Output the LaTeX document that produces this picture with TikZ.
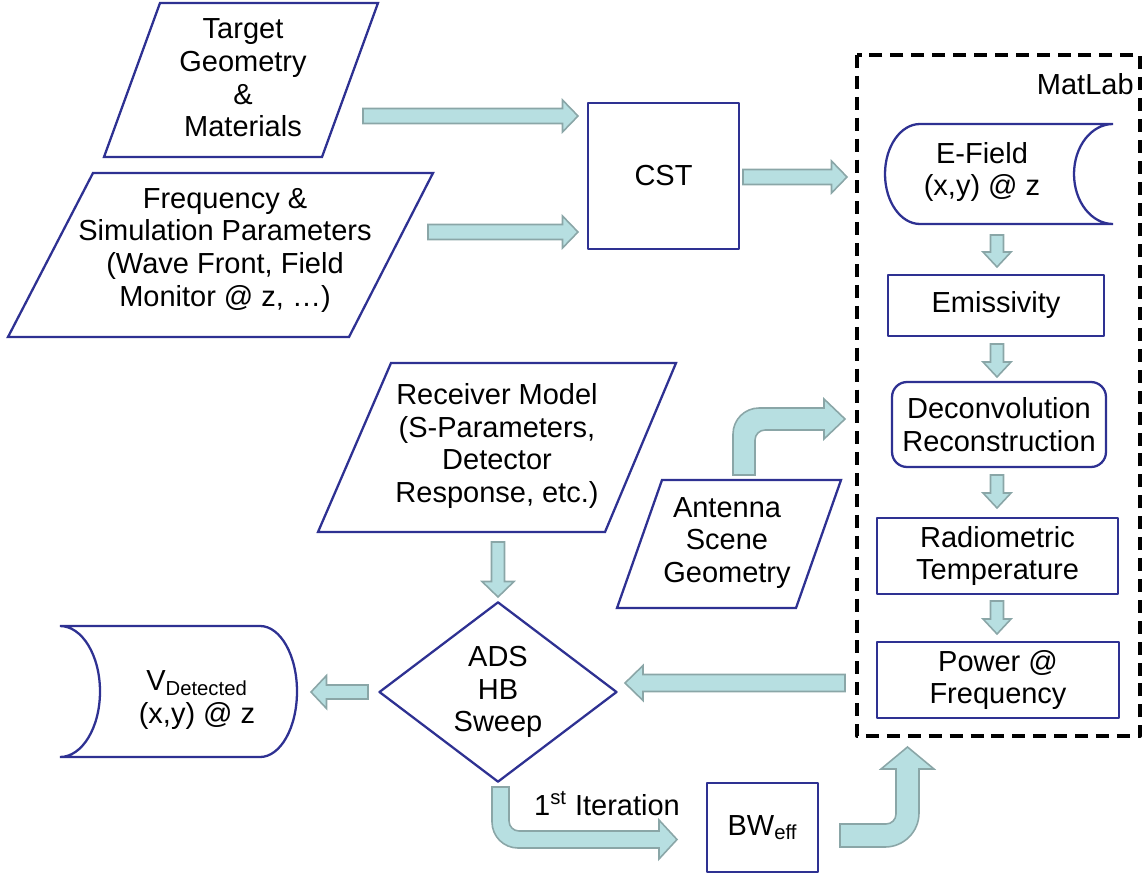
\documentclass[tikz,border=0pt]{standalone}
\usepackage{fontspec}
\setmainfont{Liberation Sans}
\usetikzlibrary{calc,shapes.geometric}

\definecolor{nodeblue}{RGB}{46,49,146}
\definecolor{arrowfill}{RGB}{183,223,225}
\definecolor{arrowline}{RGB}{138,166,167}

\tikzset{
  box/.style={draw=nodeblue, line width=1.3pt, align=center, inner sep=0pt},
  outline/.style={draw=nodeblue, line width=1.3pt, line join=miter},
  txt/.style={align=center, inner sep=0pt},
  blockarrow/.style={fill=arrowfill, draw=arrowline, line width=0.9pt, line join=miter},
  matlabbox/.style={draw=black, line width=2.2pt, dash pattern=on 7.4pt off 4.5pt},
}

% block arrow: from, to, shaft half width, head half width, head length
\newcommand{\barrow}[5]{%
  \path ($(#2)!#5!(#1)$) coordinate (hb);
  \filldraw[blockarrow] ($(#1)!#3!90:(#2)$) -- ($(hb)!#3!90:(#2)$) -- ($(hb)!#4!90:(#2)$) -- (#2)
    -- ($(hb)!#4!-90:(#2)$) -- ($(hb)!#3!-90:(#2)$) -- ($(#1)!#3!-90:(#2)$) -- cycle;
}

\begin{document}
\begin{tikzpicture}[x=0.02cm, y=0.02cm, font=\fontsize{16.5}{18.6}\selectfont, line join=round]
	\useasboundingbox (0,0) rectangle (1145,-875);
	%%%%%%%%%%%%%%%%%%%%%%%%%%%%%%%%%
	\coordinate (tg-s) at (363,-116);
	\coordinate (tg-e) at (578,-116);
	\coordinate (fq-s) at (428,-232);
	\coordinate (fq-e) at (578,-232);
	\coordinate (cst-s) at (743,-177);
	\coordinate (cst-e) at (847,-177);
	\coordinate (ef-s) at (997,-235);
	\coordinate (ef-e) at (997,-267);
	\coordinate (em-s) at (997,-344);
	\coordinate (em-e) at (997,-377);
	\coordinate (dc-s) at (997,-475);
	\coordinate (dc-e) at (997,-508);
	\coordinate (rt-s) at (997,-601);
	\coordinate (rt-e) at (997,-634);
	\coordinate (rx-s) at (498,-542);
	\coordinate (rx-e) at (498,-597);
	\coordinate (pw-s) at (845,-683);
	\coordinate (pw-e) at (625,-683);
	\coordinate (ads-s) at (368,-692);
	\coordinate (ads-e) at (311,-692);
	%%%%%%%%%%%%%%%%%%%%%%%%%%%%%%%%%
	\draw[matlabbox] (857,-55) rectangle (1140,-736);
	\node[txt, anchor=east] (matlab) at (1134,-84) {MatLab};
	%%%%%%%%%%%%%%%%%%%%%%%%%%%%%%%%%
	\draw[outline] (160,-3) -- (378,-3) -- (322,-157) -- (104,-157) -- cycle;
	\node[txt] (target) at (243,-78) {Target\\Geometry\\\&\\Materials};
	\draw[outline] (93,-173) -- (433,-173) -- (349,-337) -- (8,-337) -- cycle;
	\node[txt] (freq) at (225,-250) {Frequency \&\\Simulation Parameters\\(Wave Front, Field\\Monitor @ z, …)};
	\draw[outline] (391,-363) -- (676,-363) -- (605,-532) -- (318,-532) -- cycle;
	\node[txt] (receiver) at (497,-446) {Receiver Model\\(S-Parameters,\\Detector\\Response, etc.)};
	\draw[outline] (662,-480) -- (841,-480) -- (796,-608) -- (617,-608) -- cycle;
	\node[txt] (antenna) at (727,-543) {Antenna\\Scene\\Geometry};
	\draw[outline] (920,-124) -- (1113,-124) arc[start angle=90, end angle=270, x radius=39, y radius=50]
		-- (920,-224) arc[start angle=270, end angle=90, x radius=35, y radius=50] -- cycle;
	\node[txt] (efield) at (982,-172) {E-Field\\(x,y) @ z};
	\draw[outline] (60,-626) arc[start angle=90, end angle=-90, x radius=40, y radius=65.5]
		-- (260,-757) arc[start angle=-90, end angle=90, x radius=37, y radius=65.5] -- cycle;
	\node[txt] (vdet) at (197,-700) {V\textsubscript{Detected}\\(x,y) @ z};
	%%%%%%%%%%%%%%%%%%%%%%%%%%%%%%%%%
	\node[box, minimum width=3.02cm, minimum height=2.92cm] (cst) at (663.5,-176) {CST};
	\node[box, minimum width=4.32cm, minimum height=1.22cm] (emis) at (996,-305.5) {Emissivity};
	\node[box, rounded corners=0.3cm, minimum width=4.28cm, minimum height=1.7cm] (deconv) at (999,-424.5) {Deconvolution\\Reconstruction};
	\node[box, minimum width=4.82cm, minimum height=1.52cm] (radtemp) at (997.5,-556) {Radiometric\\Temperature};
	\node[box, minimum width=4.84cm, minimum height=1.52cm] (power) at (998,-680) {Power @\\Frequency};
	\node[box, diamond, minimum width=4.76cm, minimum height=3.4cm] (ads) at (498,-692) {ADS\\HB\\Sweep};
	\node[box, minimum width=2.22cm, minimum height=1.78cm] (bw) at (762.5,-827.5) {BW\textsubscript{eff}};
	\node[txt] (iter) at (607,-804) {1\textsuperscript{st} Iteration};
	%%%%%%%%%%%%%%%%%%%%%%%%%%%%%%%%%
	\barrow{tg-s}{tg-e}{0.15cm}{0.32cm}{0.31cm}
	\barrow{fq-s}{fq-e}{0.15cm}{0.32cm}{0.31cm}
	\barrow{cst-s}{cst-e}{0.15cm}{0.32cm}{0.31cm}
	\barrow{ef-s}{ef-e}{0.13cm}{0.28cm}{0.3cm}
	\barrow{em-s}{em-e}{0.13cm}{0.28cm}{0.3cm}
	\barrow{dc-s}{dc-e}{0.13cm}{0.28cm}{0.3cm}
	\barrow{rt-s}{rt-e}{0.13cm}{0.28cm}{0.3cm}
	\barrow{rx-s}{rx-e}{0.13cm}{0.32cm}{0.31cm}
	\barrow{pw-s}{pw-e}{0.17cm}{0.35cm}{0.36cm}
	\barrow{ads-s}{ads-e}{0.14cm}{0.33cm}{0.31cm}
	%%%%%%%%%%%%%%%%%%%%%%%%%%%%%%%%%
	% bent arrows
	\filldraw[blockarrow] (733,-475) -- (733,-434) arc[start angle=180, end angle=90, radius=26]
		-- (824,-408) -- (824,-399) -- (845,-419) -- (824,-439) -- (824,-430) -- (765,-430)
		arc[start angle=90, end angle=180, radius=10] -- (755,-475) -- cycle;
	\filldraw[blockarrow] (492,-787) -- (492,-822) arc[start angle=180, end angle=270, radius=26]
		-- (659,-848) -- (659,-859) -- (677,-839.5) -- (659,-820) -- (659,-831) -- (519,-831)
		arc[start angle=270, end angle=180, radius=10] -- (509,-787) -- cycle;
	\filldraw[blockarrow] (840,-824) -- (886,-824) arc[start angle=270, end angle=360, radius=10]
		-- (896,-769) -- (881,-769) -- (907.5,-747) -- (934,-769) -- (919,-769) -- (919,-813)
		arc[start angle=0, end angle=-90, radius=34] -- (840,-847) -- cycle;
	%%%%%%%%%%%%%%%%%%%%%%%%%%%%%%%%%
\end{tikzpicture}
\end{document}
